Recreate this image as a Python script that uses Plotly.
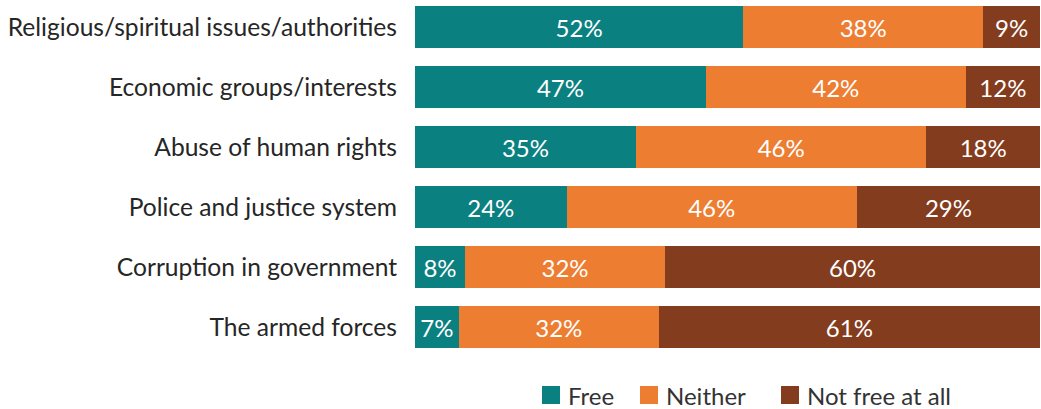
import plotly.graph_objects as go

categories = [
    "Religious/spiritual issues/authorities",
    "Economic groups/interests",
    "Abuse of human rights",
    "Police and justice system",
    "Corruption in government",
    "The armed forces",
]
free = [52, 47, 35, 24, 8, 7]
neither = [38, 42, 46, 46, 32, 32]
not_free = [9, 12, 18, 29, 60, 61]

series = [
    ("Free", free, "#0B8080"),
    ("Neither", neither, "#ED7D31"),
    ("Not free at all", not_free, "#843C1E"),
]

FONT = "Lato, 'Open Sans', sans-serif"
SIZE = 24

W, H = 1041, 409
M_L, M_R, M_T, M_B = 415, 1, 0, 52
PLOT_W = W - M_L - M_R
PLOT_H = H - M_T - M_B

fig = go.Figure()
for name, vals, color in series:
    fig.add_trace(go.Bar(
        name=name,
        y=categories,
        x=vals,
        orientation="h",
        marker=dict(color=color, line=dict(width=0)),
        text=[f"{v}%" for v in vals],
        textposition="inside",
        insidetextanchor="middle",
        textfont=dict(color="white", size=SIZE, family=FONT),
        showlegend=False,
        hoverinfo="skip",
    ))


def px_x(px):
    return (px - M_L) / PLOT_W


def px_y(py):
    return (M_T + PLOT_H - py) / PLOT_H


# key row under the bars: colour square + series name
key_left = [542, 640, 781]
key_size = 18
key_mid = 395
for (name, _, color), left in zip(series, key_left):
    fig.add_shape(
        type="rect", xref="paper", yref="paper",
        x0=px_x(left), x1=px_x(left + key_size),
        y0=px_y(key_mid - key_size / 2), y1=px_y(key_mid + key_size / 2),
        fillcolor=color, line=dict(width=0),
    )
    fig.add_annotation(
        xref="paper", yref="paper",
        x=px_x(left + key_size + 6), y=px_y(key_mid),
        xanchor="left", yanchor="middle",
        text=name, showarrow=False,
        font=dict(size=SIZE, color="#333333", family=FONT),
    )

fig.update_layout(
    barmode="stack",
    barnorm="percent",
    bargap=0.3,
    width=W,
    height=H,
    margin=dict(l=M_L, r=M_R, t=M_T, b=M_B),
    paper_bgcolor="white",
    plot_bgcolor="white",
    font=dict(family=FONT, size=SIZE, color="#262626"),
    uniformtext=dict(mode="show", minsize=10),
    showlegend=False,
)
fig.update_xaxes(range=[0, 100], visible=False, fixedrange=True)
fig.update_yaxes(
    type="category",
    categoryorder="array",
    categoryarray=categories,
    range=[5.5, -0.45],
    showgrid=False,
    showline=False,
    zeroline=False,
    ticks="",
    ticklabelstandoff=17,
    tickfont=dict(size=24.6, color="#262626"),
    fixedrange=True,
)

fig.write_html("out.html")
